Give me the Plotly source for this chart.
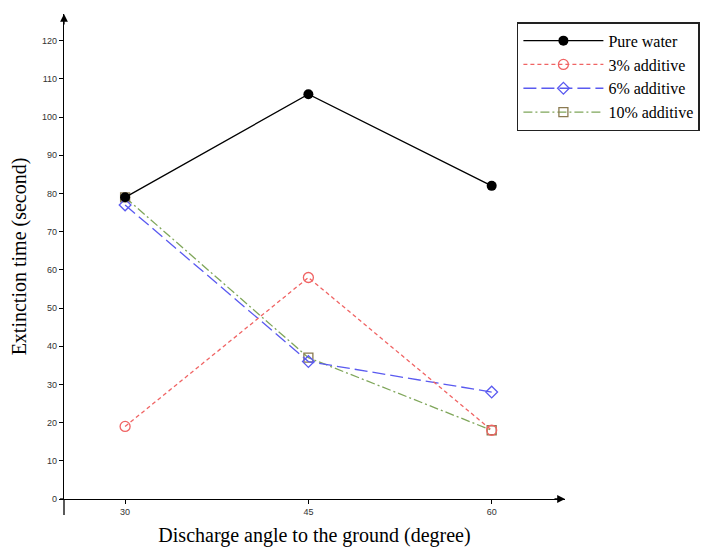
import plotly.graph_objects as go

angles = [30, 45, 60]
pure_water = [79, 106, 82]
add_3 = [19, 58, 18]
add_6 = [77, 36, 28]
add_10 = [79, 37, 18]
y_ticks = list(range(0, 121, 10))

serif = "Liberation Serif, Times New Roman, serif"
sans = "Liberation Sans, Arial, sans-serif"

fig = go.Figure()
fig.add_trace(go.Scatter(x=angles, y=add_10, name="10% additive", mode="lines+markers",
                         line=dict(color="#7fa65a", width=1.3, dash="9px,3px,2px,3px"),
                         marker=dict(symbol="square-open", size=9, color="#8a7a50", line=dict(width=1.3))))
fig.add_trace(go.Scatter(x=angles, y=add_6, name="6% additive", mode="lines+markers",
                         line=dict(color="#5a5af0", width=1.3, dash="13px,5px"),
                         marker=dict(symbol="diamond-open", size=9, color="#5a5af0", line=dict(width=1.3))))
fig.add_trace(go.Scatter(x=angles, y=add_3, name="3% additive", mode="lines+markers",
                         line=dict(color="#f06464", width=1.3, dash="4px,3px"),
                         marker=dict(symbol="circle-open", size=10, color="#f06464", line=dict(width=1.3))))
fig.add_trace(go.Scatter(x=angles, y=pure_water, name="Pure water", mode="lines+markers",
                         line=dict(color="black", width=1.3),
                         marker=dict(symbol="circle", size=10, color="black")))

fig.update_layout(
    width=703, height=550,
    margin=dict(l=64, r=138, t=14, b=51, autoexpand=False),
    paper_bgcolor="white", plot_bgcolor="white",
    showlegend=True,
    legend=dict(x=0.904, y=0.983, xanchor="left", yanchor="top",
                traceorder="reversed",
                bgcolor="white", bordercolor="#222", borderwidth=1.5,
                font=dict(family=serif, size=16, color="black"),
                itemwidth=80),
    xaxis=dict(range=[25, 66], tickvals=angles, ticktext=[str(a) for a in angles],
               showline=True, linecolor="black", linewidth=1.3, ticks="outside", ticklen=4,
               tickcolor="black", showgrid=False, zeroline=False, automargin=False,
               tickfont=dict(family=sans, size=9, color="#333"),
               title=dict(text="Discharge angle to the ground (degree)",
                          font=dict(family=serif, size=20, color="black"), standoff=12)),
    yaxis=dict(range=[0, 127], tickvals=y_ticks,
               showline=True, linecolor="black", linewidth=1.3, ticks="outside", ticklen=4,
               tickcolor="black", showgrid=False, zeroline=False, automargin=False,
               tickfont=dict(family=sans, size=9, color="#333"),
               title=dict(text="Extinction time (second)",
                          font=dict(family=serif, size=20, color="black"), standoff=10)),
)

# axis overhangs and arrowheads
fig.add_shape(type="line", xref="paper", yref="paper", x0=0, x1=0, y0=-0.033, y1=0,
              line=dict(color="black", width=1.3))
fig.add_shape(type="line", xref="paper", yref="paper", x0=-0.008, x1=0, y0=0, y1=0,
              line=dict(color="black", width=1.3))
fig.add_annotation(xref="paper", yref="paper", x=1.0, y=0, ax=-12, ay=0, text="",
                   showarrow=True, arrowhead=2, arrowsize=1.2, arrowwidth=1.3, arrowcolor="black")
fig.add_annotation(xref="paper", yref="paper", x=0, y=1.0, ax=0, ay=12, text="",
                   showarrow=True, arrowhead=2, arrowsize=1.2, arrowwidth=1.3, arrowcolor="black")

fig.write_html("out.html")
